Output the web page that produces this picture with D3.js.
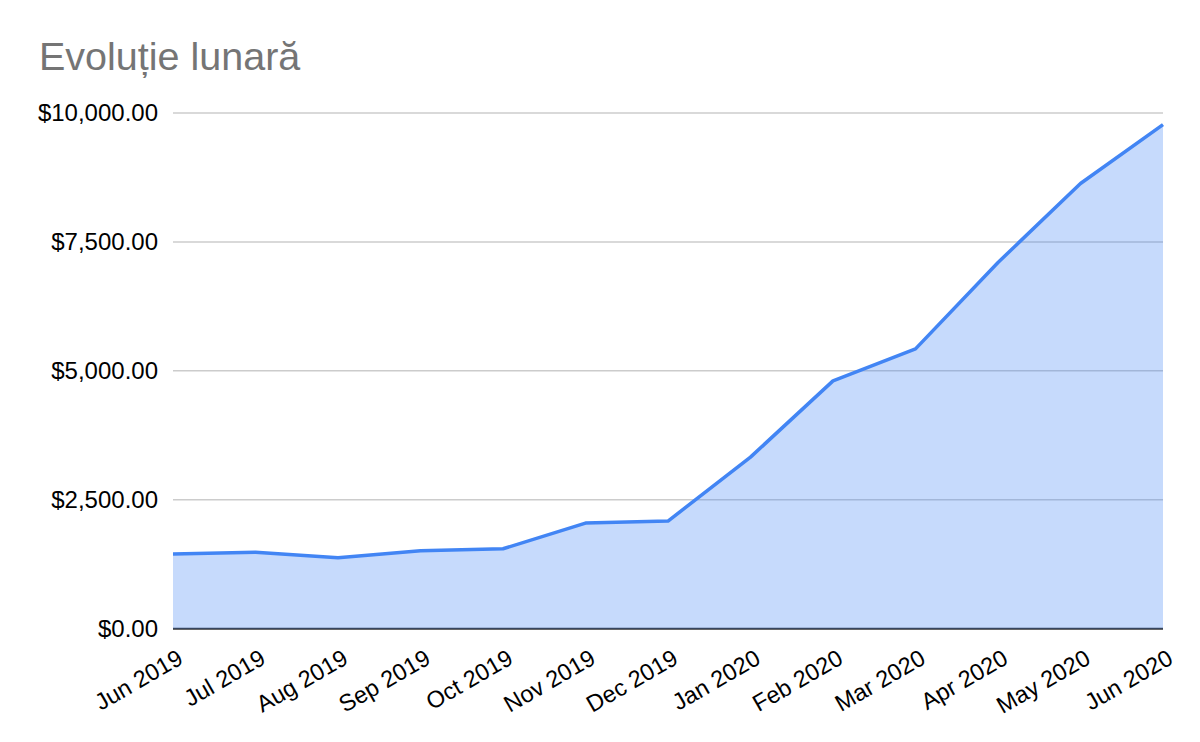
<!DOCTYPE html>
<html><head><meta charset="utf-8">
<script src="https://cdn.jsdelivr.net/npm/d3@7"></script>
<style>body{margin:0;background:#fff}svg{display:block;font-family:Arial,"Liberation Sans",sans-serif}</style>
</head><body>
<svg id="c" width="1200" height="742"></svg>
<script>
const title = "Evoluție lunară";
const months = ["Jun 2019","Jul 2019","Aug 2019","Sep 2019","Oct 2019","Nov 2019","Dec 2019","Jan 2020","Feb 2020","Mar 2020","Apr 2020","May 2020","Jun 2020"];
const values = [1448,1481,1376,1512,1550,2048,2087,3327,4806,5426,7101,8632,9775];
const yTicks = [0,2500,5000,7500,10000];

const svg = d3.select("#c");
const W = 1200, H = 742;
const m = {left:173, right:37, top:113, bottom:113.3};
const x = d3.scalePoint().domain(months).range([m.left, W - m.right]);
const y = d3.scaleLinear().domain([0,10000]).range([H - m.bottom, m.top]);
const fmt = d3.format("$,.2f");

svg.append("text").attr("x",39).attr("y",70).attr("font-size",39.5).attr("fill","#757575").text(title);

// gridlines
svg.append("g").selectAll("line").data(yTicks.filter(d=>d>0)).join("line")
  .attr("x1",m.left).attr("x2",W-m.right)
  .attr("y1",d=>y(d)).attr("y2",d=>y(d))
  .attr("stroke","#cccccc").attr("stroke-width",1.5);

// y axis labels
const ya = svg.append("g").attr("transform",`translate(${m.left},0)`)
  .call(d3.axisLeft(y).tickValues(yTicks).tickFormat(fmt).tickSize(0).tickPadding(15));
ya.select(".domain").remove();
ya.selectAll("text").attr("font-size",24).attr("fill","#000").attr("font-family","Arial, 'Liberation Sans', sans-serif");

// baseline
svg.append("line").attr("x1",m.left).attr("x2",W-m.right).attr("y1",y(0)).attr("y2",y(0))
  .attr("stroke","#333333").attr("stroke-width",2);

const data = months.map((mo,i)=>({mo, v:values[i]}));
svg.append("path").datum(data)
  .attr("d", d3.area().x(d=>x(d.mo)).y0(y(0)).y1(d=>y(d.v)))
  .attr("fill","#4285F4").attr("fill-opacity",0.3);
svg.append("path").datum(data)
  .attr("d", d3.line().x(d=>x(d.mo)).y(d=>y(d.v)))
  .attr("fill","none").attr("stroke","#4285F4").attr("stroke-width",3.5).attr("stroke-linejoin","round");

// x axis labels
const xa = svg.append("g").attr("transform",`translate(0,${y(0)})`)
  .call(d3.axisBottom(x).tickSize(0).tickPadding(0));
xa.select(".domain").remove();
xa.selectAll("text")
  .attr("font-size",23.5).attr("fill","#000").attr("font-family","Arial, 'Liberation Sans', sans-serif")
  .attr("text-anchor","end").attr("dy",null).attr("y",null)
  .attr("transform","translate(11,34) rotate(-30)");
</script>
</body></html>
